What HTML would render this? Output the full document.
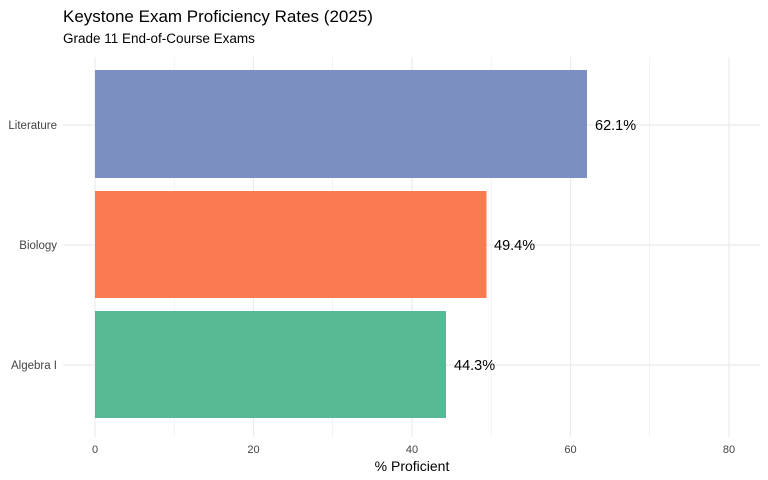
<!DOCTYPE html>
<html><head><meta charset="utf-8"><style>
body{margin:0;background:#fff;}
svg{display:block;font-family:"Liberation Sans",sans-serif;}
</style></head><body>
<svg width="768" height="480" viewBox="0 0 768 480" xmlns="http://www.w3.org/2000/svg">
<rect width="768" height="480" fill="#fff"/>
<text x="63" y="22" font-size="17" fill="#000">Keystone Exam Proficiency Rates (2025)</text>
<text x="63" y="43" font-size="13.5" fill="#000">Grade 11 End-of-Course Exams</text>
<g stroke="#ebebeb" stroke-width="0.6">
<line x1="174.2" y1="57" x2="174.2" y2="437"/>
<line x1="332.7" y1="57" x2="332.7" y2="437"/>
<line x1="491.2" y1="57" x2="491.2" y2="437"/>
<line x1="649.7" y1="57" x2="649.7" y2="437"/>
</g>
<g stroke="#ebebeb" stroke-width="1.2">
<line x1="95" y1="57" x2="95" y2="437"/>
<line x1="253.5" y1="57" x2="253.5" y2="437"/>
<line x1="412" y1="57" x2="412" y2="437"/>
<line x1="570.5" y1="57" x2="570.5" y2="437"/>
<line x1="729" y1="57" x2="729" y2="437"/>
<line x1="63" y1="125" x2="760" y2="125"/>
<line x1="63" y1="245" x2="760" y2="245"/>
<line x1="63" y1="365" x2="760" y2="365"/>
</g>
<rect x="95" y="70" width="492" height="108" fill="#7B8FC0"/>
<rect x="95" y="191" width="391.5" height="107" fill="#FA7B50"/>
<rect x="95" y="311" width="351" height="107" fill="#57BA94"/>
<g font-size="14.5" fill="#000">
<text x="595" y="130">62.1%</text>
<text x="494" y="250">49.4%</text>
<text x="454" y="370">44.3%</text>
</g>
<g font-size="11.5" fill="#444" text-anchor="end">
<text x="57" y="129">Literature</text>
<text x="57" y="249">Biology</text>
<text x="57" y="369">Algebra I</text>
</g>
<g font-size="11" fill="#444" text-anchor="middle">
<text x="95" y="453">0</text>
<text x="253.5" y="453">20</text>
<text x="412" y="453">40</text>
<text x="570.5" y="453">60</text>
<text x="729" y="453">80</text>
</g>
<text x="412" y="471" font-size="14" text-anchor="middle" fill="#000">% Proficient</text>
</svg>
</body></html>
